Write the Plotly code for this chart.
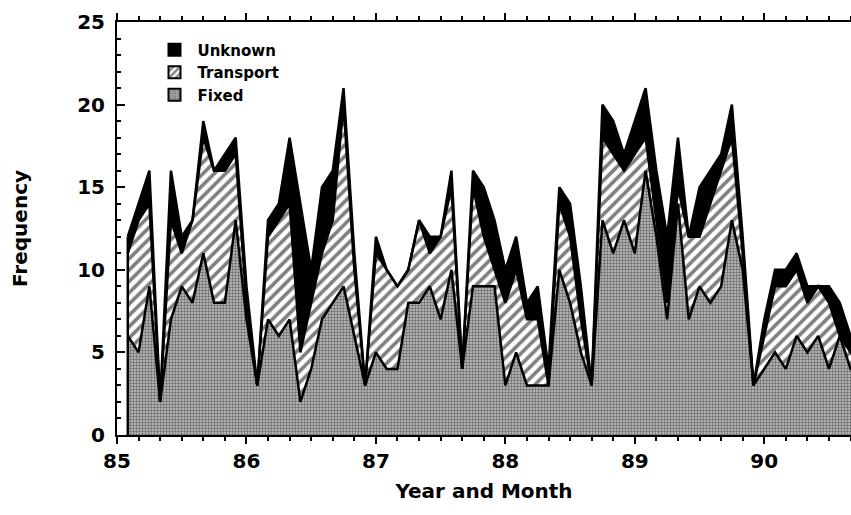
import plotly.graph_objects as go

# Monthly counts, Jan 1985 onward (stacked: Fixed, Transport, Unknown)
fixed = [6, 5, 9, 2, 7, 9, 8, 11, 8, 8, 13, 7,
         3, 7, 6, 7, 2, 4, 7, 8, 9, 6, 3, 5,
         4, 4, 8, 8, 9, 7, 10, 4, 9, 9, 9, 3,
         5, 3, 3, 3, 10, 8, 5, 3, 13, 11, 13, 11,
         16, 12, 7, 14, 7, 9, 8, 9, 13, 10, 3, 4,
         5, 4, 6, 5, 6, 4, 6, 4, 4]
transport = [5, 8, 5, 0, 6, 2, 5, 7, 8, 8, 4, 1,
             0, 5, 7, 7, 3, 4, 4, 5, 11, 4, 0, 6,
             6, 5, 2, 5, 2, 5, 5, 0, 6, 3, 1, 5,
             5, 4, 4, 0, 4, 4, 2, 0, 5, 6, 3, 6,
             2, 1, 1, 1, 5, 3, 6, 7, 5, 1, 0, 2,
             4, 5, 4, 3, 3, 4, 0, 1, 0]
unknown = [1, 1, 2, 0, 3, 1, 0, 1, 0, 1, 1, 1,
           0, 1, 1, 4, 9, 2, 4, 3, 1, 1, 0, 1,
           0, 0, 0, 0, 1, 0, 1, 0, 1, 3, 3, 2,
           2, 1, 2, 1, 1, 2, 2, 0, 2, 2, 1, 2,
           3, 3, 4, 3, 0, 3, 2, 1, 2, 1, 0, 1,
           1, 1, 1, 1, 0, 1, 2, 1, 1]
months = [85 + (i + 1) / 12 for i in range(len(fixed))]

x_ticks = [85, 86, 87, 88, 89, 90]
x_labels = ["85", "86", "87", "88", "89", "90"]
y_ticks = [0, 5, 10, 15, 20, 25]

FONT = "DejaVu Sans"
fixed_pat = dict(shape=".", fgcolor="#111111", bgcolor="#c4c4c4", size=3, solidity=0.5)
trans_pat = dict(shape="/", fgcolor="black", bgcolor="white", size=8, solidity=0.45)

fig = go.Figure()
line = dict(color="black", width=2.5)
fig.add_trace(go.Scatter(x=months, y=fixed, stackgroup="s", mode="lines", line=line,
                         fillcolor="#888888", fillpattern=fixed_pat, showlegend=False, name="Fixed"))
fig.add_trace(go.Scatter(x=months, y=transport, stackgroup="s", mode="lines", line=line,
                         fillcolor="white", fillpattern=trans_pat, showlegend=False, name="Transport"))
fig.add_trace(go.Scatter(x=months, y=unknown, stackgroup="s", mode="lines", line=line,
                         fillcolor="black", showlegend=False, name="Unknown"))

# left edge of the stacked area (first month total)
first_total = fixed[0] + transport[0] + unknown[0]
fig.add_trace(go.Scatter(x=[months[0], months[0]], y=[0, first_total], mode="lines",
                         line=dict(color="black", width=2.5), showlegend=False, hoverinfo="skip"))

# legend entries
fig.add_trace(go.Bar(x=[80], y=[0], name="Unknown",
                     marker=dict(color="black", line=dict(color="black", width=1.5))))
fig.add_trace(go.Bar(x=[80], y=[0], name="Transport",
                     marker=dict(color="white", pattern=dict(shape="/", fgcolor="black", bgcolor="white",
                                                            size=6, solidity=0.5),
                                 line=dict(color="black", width=2))))
fig.add_trace(go.Bar(x=[80], y=[0], name="Fixed",
                     marker=dict(color="#888888", pattern=fixed_pat, line=dict(color="black", width=1.5))))

fig.update_layout(
    width=851, height=515,
    margin=dict(l=117, r=0, t=22, b=80),
    plot_bgcolor="white", paper_bgcolor="white",
    font=dict(family=FONT, color="black"),
    legend=dict(x=0.047, y=0.972, xanchor="left", yanchor="top", bgcolor="rgba(0,0,0,0)",
                font=dict(family=FONT, size=15, weight="bold", color="black"),
                traceorder="normal", itemsizing="constant", itemwidth=36),
)
fig.update_xaxes(
    range=[85, 90.67], tickmode="array", tickvals=x_ticks, ticktext=x_labels,
    ticks="outside", ticklen=7, tickwidth=2, tickcolor="black",
    showline=True, linewidth=2, linecolor="black", mirror="ticks",
    showgrid=False, zeroline=False,
    minor=dict(dtick=1 / 6, tick0=85, ticks="outside", ticklen=4, tickwidth=1.5, tickcolor="black"),
    tickfont=dict(family=FONT, size=20, weight="bold", color="black"),
    title=dict(text="Year and Month", font=dict(family=FONT, size=20, weight="bold", color="black"),
               standoff=12),
)
fig.update_yaxes(
    range=[0, 25], tickmode="array", tickvals=y_ticks,
    ticks="inside", ticklen=8, tickwidth=2, tickcolor="black",
    showline=True, linewidth=2, linecolor="black", mirror=False,
    showgrid=False, zeroline=False,
    minor=dict(dtick=1, ticks="inside", ticklen=4, tickwidth=1.5, tickcolor="black"),
    tickfont=dict(family=FONT, size=20, weight="bold", color="black"),
    ticklabelstandoff=6,
    title=dict(text="Frequency", font=dict(family=FONT, size=20, weight="bold", color="black"),
               standoff=44),
)

fig.write_html("out.html")
